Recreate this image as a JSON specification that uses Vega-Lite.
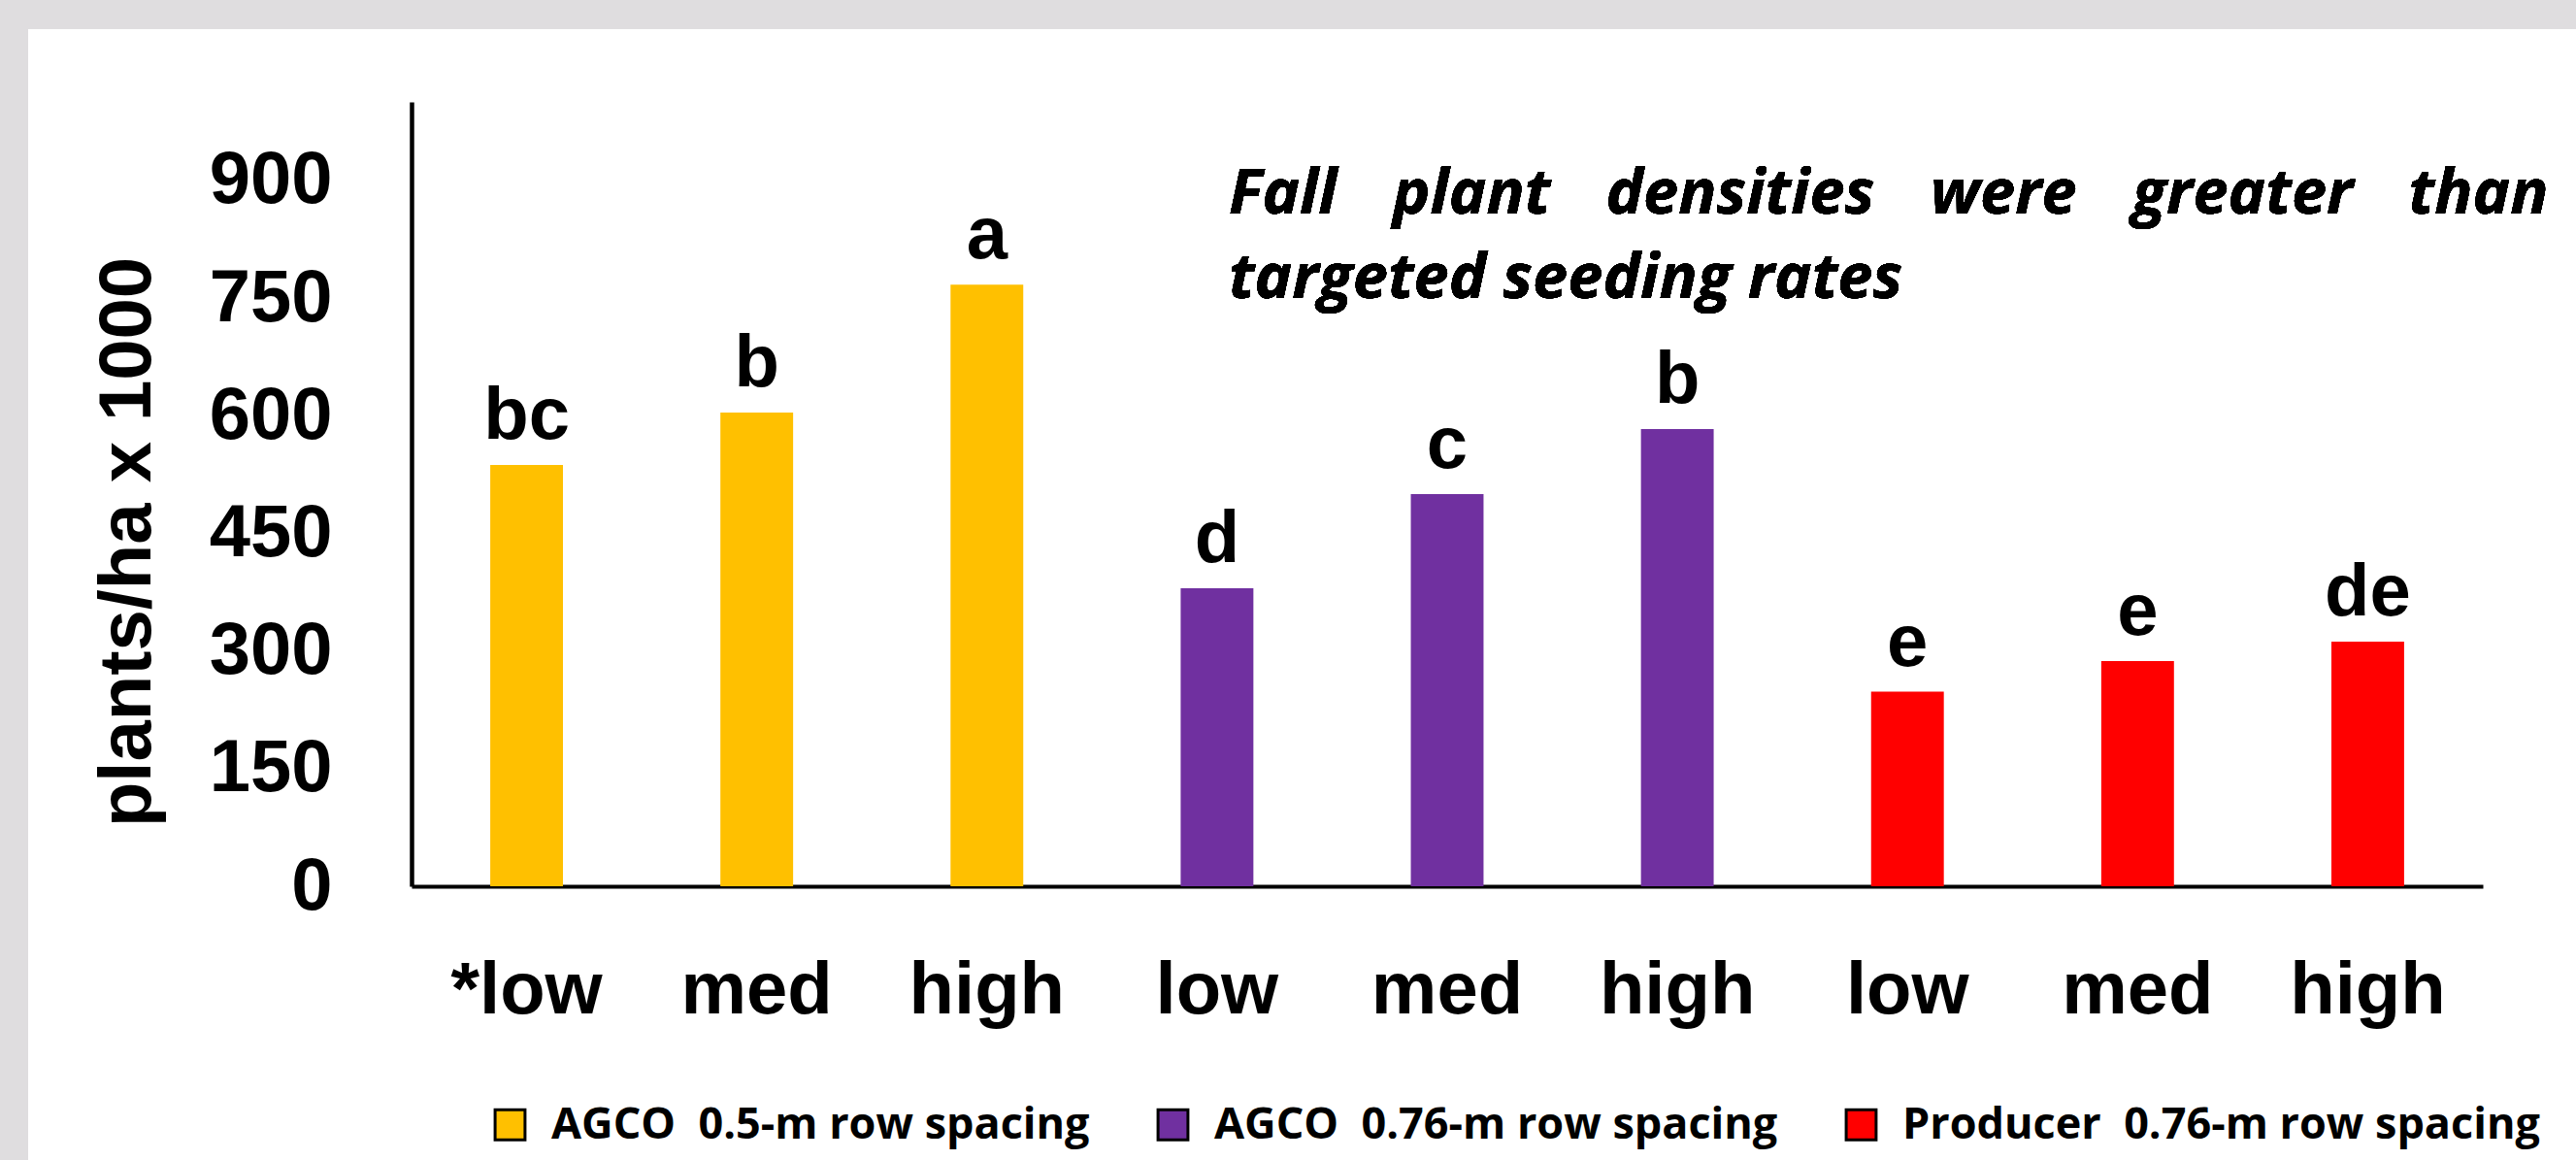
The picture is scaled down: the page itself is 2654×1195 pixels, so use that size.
{
  "$schema": "https://vega.github.io/schema/vega-lite/v6.json",
  "width": 2625,
  "height": 1165,
  "autosize": {"type": "none"},
  "padding": {"left": 29, "top": 30, "right": 0, "bottom": 0},
  "background": "#dfdddf",
  "config": {"view": {"fill": "white", "stroke": null}},
  "data": {
    "values": [
      {"key": "*low", "group": "AGCO\u00a0\u00a00.5-m row spacing", "value": 537, "letter": "bc"},
      {"key": "med", "group": "AGCO\u00a0\u00a00.5-m row spacing", "value": 604, "letter": "b"},
      {"key": "high", "group": "AGCO\u00a0\u00a00.5-m row spacing", "value": 767, "letter": "a"},
      {"key": "low\u200b", "group": "AGCO\u00a0\u00a00.76-m row spacing", "value": 380, "letter": "d"},
      {"key": "med\u200b", "group": "AGCO\u00a0\u00a00.76-m row spacing", "value": 500, "letter": "c"},
      {"key": "high\u200b", "group": "AGCO\u00a0\u00a00.76-m row spacing", "value": 583, "letter": "b"},
      {"key": "low\u200b\u200b", "group": "Producer\u00a0\u00a00.76-m row spacing", "value": 248, "letter": "e"},
      {"key": "med\u200b\u200b", "group": "Producer\u00a0\u00a00.76-m row spacing", "value": 287, "letter": "e"},
      {"key": "high\u200b\u200b", "group": "Producer\u00a0\u00a00.76-m row spacing", "value": 312, "letter": "de"}
    ]
  },
  "layer": [
    {
      "mark": {"type": "bar"},
      "encoding": {
        "x": {
          "field": "key", "type": "nominal", "sort": null,
          "scale": {"range": [395, 2529], "paddingInner": 0.684, "paddingOuter": 0.342},
          "axis": {
            "title": null, "labelAngle": 0, "labelFont": "Liberation Sans", "labelFontWeight": "bold",
            "labelFontSize": 76, "labelColor": "black", "labelPadding": 130, "labelBaseline": "alphabetic",
            "ticks": false, "tickSize": 0, "domainColor": "black", "domainWidth": 4, "offset": -282, "grid": false
          }
        },
        "y": {
          "field": "value", "type": "quantitative",
          "scale": {"domain": [0, 1000], "range": [883, 75], "nice": false, "zero": true},
          "axis": {
            "title": "plants/ha x 1000", "values": [0, 150, 300, 450, 600, 750, 900],
            "labelFont": "Liberation Sans", "labelFontWeight": "bold", "labelFontSize": 76, "labelColor": "black",
            "labelPadding": 82, "ticks": false, "tickSize": 0, "domainColor": "black", "domainWidth": 4.5,
            "offset": -395, "grid": false,
            "titleFont": "Liberation Sans", "titleFontWeight": "bold", "titleFontSize": 76, "titleColor": "black",
            "titleAngle": 270, "titleX": -270, "titleY": 528, "titleAlign": "center", "titleBaseline": "alphabetic"
          }
        },
        "color": {
          "field": "group", "type": "nominal", "sort": null,
          "scale": {
            "domain": ["AGCO\u00a0\u00a00.5-m row spacing", "AGCO\u00a0\u00a00.76-m row spacing", "Producer\u00a0\u00a00.76-m row spacing"],
            "range": ["#FFC000", "#7030A0", "#FF0000"]
          },
          "legend": {
            "orient": "none", "legendX": 474, "legendY": 1106, "direction": "horizontal", "title": null,
            "symbolType": "square", "symbolSize": 950, "symbolStrokeColor": "black", "symbolStrokeWidth": 3,
            "symbolOpacity": 1,
            "labelFont": "Open Sans", "labelFontWeight": "bold", "labelFontSize": 45, "labelColor": "black",
            "labelOffset": 20, "columnPadding": 63, "labelLimit": 0,
            "encode": {"symbols": {"update": {"stroke": {"value": "black"}, "strokeWidth": {"value": 3}}}}
          }
        }
      }
    },
    {
      "mark": {
        "type": "text", "dy": -27, "baseline": "alphabetic", "align": "center",
        "font": "Liberation Sans", "fontWeight": "bold", "fontSize": 76, "color": "black"
      },
      "encoding": {
        "x": {"field": "key", "type": "nominal", "sort": null},
        "y": {"field": "value", "type": "quantitative"},
        "text": {"field": "letter"}
      }
    },
    {
      "mark": {
        "type": "text",
        "text": ["Fall\u00a0\u00a0\u00a0\u200aplant\u00a0\u00a0\u00a0\u200adensities\u00a0\u00a0\u00a0\u200awere\u00a0\u00a0\u00a0\u200agreater\u00a0\u00a0\u00a0\u200athan", "targeted seeding rates"],
        "align": "left", "baseline": "alphabetic", "dx": 12,
        "font": "Open Sans", "fontStyle": "italic", "fontWeight": "bold", "fontSize": 65,
        "lineHeight": 87, "color": "black"
      },
      "encoding": {
        "x": {"datum": "low\u200b"},
        "y": {"datum": 858}
      }
    }
  ]
}
